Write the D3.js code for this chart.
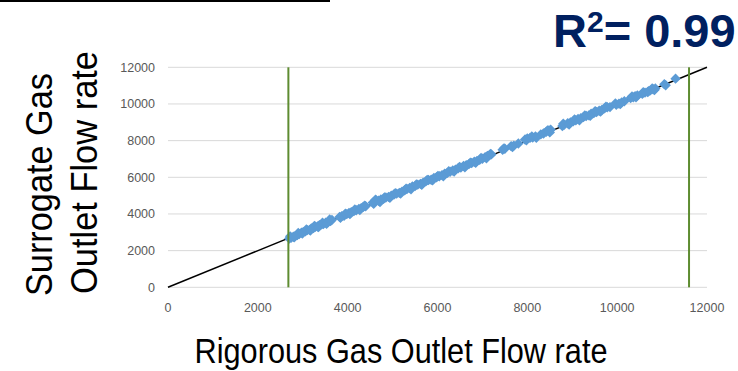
<!DOCTYPE html>
<html>
<head>
<meta charset="utf-8">
<script src="https://cdn.jsdelivr.net/npm/d3@7"></script>
<style>
  html, body { margin: 0; padding: 0; background: #fff; }
  svg { display: block; }
</style>
</head>
<body>
<svg id="chart" width="738" height="371"></svg>
<script>
// ---- data ----
const xTicks = [0, 2000, 4000, 6000, 8000, 10000, 12000];
const yTicks = [0, 2000, 4000, 6000, 8000, 10000, 12000];
const boundsX = [2680, 11600];           // vertical green limit lines
const fitLine = [[0, 0], [12000, 12000]]; // y = x reference line
const rigorous = [
  2700,2740,2790,2830,2880,2920,2970,3010,3060,3100,3150,3190,3240,3280,3330,3370,3420,3460,3510,3560,3620,3650,
  3820,3870,3920,3980,4030,4080,4140,4190,4250,4300,4350,4400,
  4560,4600,4640,4690,4740,4800,4850,4910,4970,5030,5090,5150,5210,5270,5320,5380,5440,5500,5560,5620,5680,5740,5800,5860,5920,5980,
  6040,6100,6160,6220,6280,6340,6400,6460,6520,6580,6640,6700,6760,6820,6880,6940,7000,7060,7110,7160,7200,
  7450,7500,7640,7700,7800,7950,8000,8060,8120,8180,8300,8360,8420,8480,8520,8780,8820,8900,8960,9020,9080,9130,9190,9250,9310,9370,
  9420,9480,9540,9600,9660,9720,9780,9840,9980,10040,10100,10160,10300,10360,10400,10450,10560,10620,10680,10740,10800,10850,11050,11300,
  2720,2810,2900,2990,3080,3170,3260,3350,3440,3530,3600,3840,3950,4050,4160,4270,4380,4580,4620,4720,4820,4940,5060,5180,5300,5410,
  5530,5650,5770,5890,6010,6130,6250,6370,6490,6610,6730,6850,6970,7090,7180,7480,7670,7980,8100,8200,8450,8500,8800,8930,9050,9160,
  9280,9400,9510,9630,9750,9960,10070,10330,10420,10580,10700,10780,10830,11080
];
const surrogate = [
  2660,2700,2760,2790,2850,2900,2980,3000,3060,3120,3130,3210,3230,3300,3320,3390,3440,3450,3530,3540,3620,3680,
  3840,3880,3900,3990,4050,4090,4160,4200,4280,4310,4390,4420,
  4620,4700,4740,4720,4790,4830,4900,4930,5000,5060,5110,5150,5220,5290,5360,5420,5500,5520,5600,5640,5700,5780,5850,5870,5960,6000,
  6060,6120,6200,6240,6300,6370,6420,6490,6530,6620,6660,6720,6780,6850,6890,6960,7010,7100,7160,7210,7250,
  7500,7560,7700,7730,7840,8060,8120,8150,8170,8230,8340,8390,8480,8560,8600,8800,8860,8950,8990,9050,9110,9180,9220,9290,9340,9380,
  9470,9500,9560,9630,9680,9760,9820,9830,9960,10020,10080,10150,10320,10360,10420,10460,10560,10620,10650,10740,10800,10850,11080,11380,
  2780,2730,2960,2930,3150,3100,3340,3280,3520,3460,3700,3790,4020,3990,4240,4220,4450,4560,4780,4650,4900,4880,5130,5120,5380,5350,
  5610,5590,5850,5830,6080,6060,6330,6310,6560,6550,6800,6790,7050,7040,7280,7580,7650,8020,8230,8160,8560,8450,8920,8880,9150,9110,
  9370,9350,9610,9580,9850,10030,10000,10410,10360,10640,10690,10850,10760,11020
];
const points = rigorous.map((v, i) => ({ x: v, y: surrogate[i] }));

// ---- drawing ----
const svg = d3.select("#chart");
const x = d3.scaleLinear().domain([0, 12000]).range([168, 707]);
const y = d3.scaleLinear().domain([0, 12000]).range([287.3, 67.3]);

// decorative rule at the top-left
svg.append("line").attr("x1", 0).attr("x2", 330).attr("y1", 1).attr("y2", 1)
  .attr("stroke", "#000").attr("stroke-width", 2);

// horizontal gridlines (incl. baseline)
svg.append("g").selectAll("line").data(yTicks).join("line")
  .attr("x1", x(0)).attr("x2", x(12000))
  .attr("y1", d => y(d)).attr("y2", d => y(d))
  .attr("stroke", "#d9d9d9").attr("stroke-width", 1);

// y tick labels
svg.append("g").selectAll("text").data(yTicks).join("text")
  .attr("x", 155).attr("y", d => y(d)).attr("dy", "0.35em")
  .attr("text-anchor", "end")
  .attr("font-family", "Liberation Sans, Arial, sans-serif").attr("font-size", 12.5)
  .attr("fill", "#595959").text(d => d);

// x tick labels
svg.append("g").selectAll("text").data(xTicks).join("text")
  .attr("x", d => x(d)).attr("y", 312)
  .attr("text-anchor", "middle")
  .attr("font-family", "Liberation Sans, Arial, sans-serif").attr("font-size", 12.5)
  .attr("fill", "#595959").text(d => d);

// y = x line
svg.append("path").datum(fitLine)
  .attr("d", d3.line().x(d => x(d[0])).y(d => y(d[1])))
  .attr("stroke", "#000").attr("stroke-width", 1.5).attr("fill", "none");

// scatter diamonds
const diamond = d3.symbol().type(d3.symbolSquare).size(54);
svg.append("g").selectAll("path").data(points).join("path")
  .attr("d", diamond)
  .attr("transform", d => `translate(${x(d.x)},${y(d.y)}) rotate(45)`)
  .attr("fill", "#5b9bd5");

// green limit lines
svg.append("g").selectAll("line").data(boundsX).join("line")
  .attr("x1", d => x(d)).attr("x2", d => x(d))
  .attr("y1", y(12000)).attr("y2", y(0))
  .attr("stroke", "#5e8c31").attr("stroke-width", 2);

// axis titles
svg.append("text")
  .attr("x", 401).attr("y", 363).attr("text-anchor", "middle")
  .attr("font-family", "Liberation Sans, Arial, sans-serif").attr("font-size", 35)
  .attr("textLength", 413).attr("lengthAdjust", "spacingAndGlyphs")
  .attr("fill", "#000").text("Rigorous Gas Outlet Flow rate");

svg.append("text")
  .attr("transform", "translate(52,296) rotate(-90)")
  .attr("font-family", "Liberation Sans, Arial, sans-serif").attr("font-size", 36)
  .attr("textLength", 223).attr("lengthAdjust", "spacingAndGlyphs")
  .attr("fill", "#000").text("Surrogate Gas");

svg.append("text")
  .attr("transform", "translate(97,294) rotate(-90)")
  .attr("font-family", "Liberation Sans, Arial, sans-serif").attr("font-size", 36)
  .attr("textLength", 243).attr("lengthAdjust", "spacingAndGlyphs")
  .attr("fill", "#000").text("Outlet Flow rate");

// R² annotation
const r2 = svg.append("text")
  .attr("x", 553).attr("y", 47)
  .attr("font-family", "Liberation Sans, Arial, sans-serif").attr("font-size", 47)
  .attr("font-weight", "bold").attr("fill", "#002060");
r2.append("tspan").text("R");
r2.append("tspan").attr("font-size", 30).attr("dy", -15).text("2");
r2.append("tspan").attr("dy", 15).text("= 0.99");
</script>
</body>
</html>
